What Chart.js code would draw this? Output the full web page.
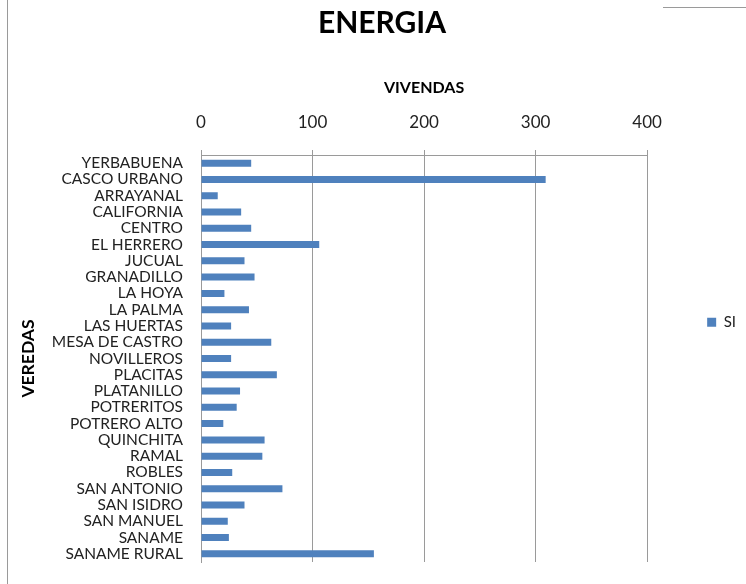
<!DOCTYPE html>
<html>
<head>
<meta charset="utf-8">
<script src="https://cdn.jsdelivr.net/npm/chart.js@4"></script>
<style>
  html, body { margin: 0; padding: 0; background: #fff; }
  #wrap { position: relative; width: 746px; height: 584px; }
  #borde { position: absolute; left: 7px; top: 0; width: 1px; height: 584px; background: #9a9a9a; }
  #linea { position: absolute; left: 663px; top: 7px; width: 83px; height: 1px; background: #9a9a9a; }
</style>
</head>
<body>
<div id="wrap">
  <canvas id="grafico" width="746" height="584"></canvas>
  <div id="borde"></div>
  <div id="linea"></div>
</div>
<script>
// Datos del gráfico
const veredas = ['YERBABUENA', 'CASCO URBANO', 'ARRAYANAL', 'CALIFORNIA', 'CENTRO', 'EL HERRERO',
  'JUCUAL', 'GRANADILLO', 'LA HOYA', 'LA PALMA', 'LAS HUERTAS', 'MESA DE CASTRO', 'NOVILLEROS',
  'PLACITAS', 'PLATANILLO', 'POTRERITOS', 'POTRERO ALTO', 'QUINCHITA', 'RAMAL', 'ROBLES',
  'SAN ANTONIO', 'SAN ISIDRO', 'SAN MANUEL', 'SANAME', 'SANAME RURAL'];
const viviendasSI = [45, 309, 15, 36, 45, 106, 39, 48, 21, 43, 27, 63, 27, 68, 35, 32, 20, 57, 55, 28, 73, 39, 24, 25, 155];
const ticksX = [0, 100, 200, 300, 400];

const azul = '#4F81BD';
const gris = '#9a9a9a';
const fuente = 'Lato, "Liberation Sans", sans-serif';

const ctx = document.getElementById('grafico').getContext('2d');
new Chart(ctx, {
  type: 'bar',
  data: {
    labels: veredas,
    datasets: [{
      label: 'SI',
      data: viviendasSI,
      backgroundColor: azul,
      categoryPercentage: 1,
      barPercentage: 0.43
    }]
  },
  options: {
    indexAxis: 'y',
    responsive: false,
    animation: false,
    layout: { padding: { left: 18, right: 0, top: 0, bottom: 22 } },
    plugins: {
      tooltip: { enabled: false },
      title: {
        display: true,
        text: 'ENERGIA',
        color: '#000',
        font: { family: fuente, size: 30, weight: 'bold' },
        padding: { top: 5, bottom: 12 }
      },
      legend: {
        position: 'right',
        // titulo vacio solo para bajar la leyenda como en el original
        title: { display: true, text: '', padding: { top: 68, bottom: 0 } },
        labels: {
          boxWidth: 9,
          boxHeight: 9,
          padding: 60,
          color: '#222',
          font: { family: fuente, size: 15 }
        }
      }
    },
    scales: {
      x: {
        position: 'top',
        min: 0,
        max: 400,
        afterBuildTicks(scale) { scale.ticks = ticksX.map(v => ({ value: v })); },
        afterFit(scale) { scale.height = 102; },
        grid: { color: gris, tickLength: 5 },
        border: { color: gris },
        ticks: { color: '#222', font: { family: fuente, size: 17 }, padding: 17 },
        title: {
          display: true,
          text: 'VIVENDAS',
          color: '#000',
          font: { family: fuente, size: 16, weight: 'bold' },
          padding: { top: 25, bottom: 0 }
        }
      },
      y: {
        afterFit(scale) { scale.width = 201 - 18; },
        // sin lineas; tickLength solo separa las etiquetas del eje
        grid: { display: false, drawTicks: true, tickLength: 18 },
        border: { display: true, color: gris },
        ticks: { color: '#222', font: { family: fuente, size: 15.5 }, padding: 0, autoSkip: false },
        title: {
          display: true,
          text: 'VEREDAS',
          color: '#000',
          font: { family: fuente, size: 17.5, weight: 'bold' },
          padding: { top: 0, bottom: 0 }
        }
      }
    }
  }
});
</script>
</body>
</html>
